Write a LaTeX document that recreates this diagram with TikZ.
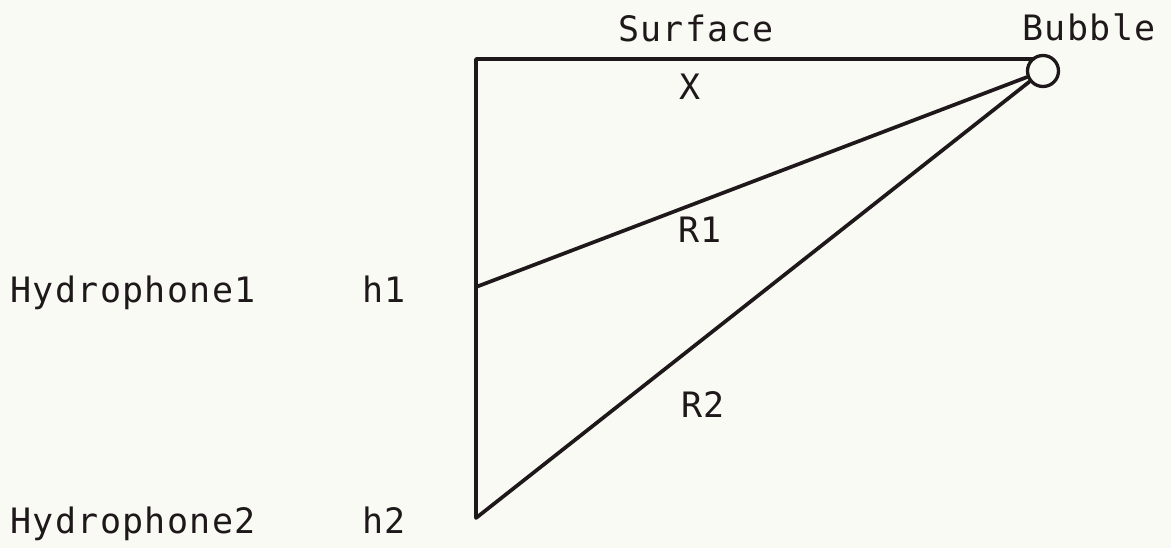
\documentclass[tikz,border=0pt]{standalone}
\usepackage{fontspec}
\setmonofont[LetterSpace=4]{DejaVu Sans Mono}
\definecolor{bg}{RGB}{250,250,245}
\definecolor{ink}{RGB}{30,24,26}
\begin{document}
\begin{tikzpicture}[x=1pt,y=-1pt,
  lbl/.style={inner sep=0pt,text=ink,font=\fontsize{35}{40}\selectfont\ttfamily},
  ray/.style={draw=ink,line width=3.7pt,line cap=round,line join=round}]
\fill[bg] (0,0) rectangle (1171,548);
\useasboundingbox (0,0) rectangle (1171,548);
% geometry
\coordinate (top) at (476,59);
\coordinate (h1) at (476,287);
\coordinate (h2) at (476,518);
\node[draw=ink,line width=3.3pt,circle,minimum size=31pt,inner sep=0pt] (bubble) at (1043,71) {};
% lines
\draw[ray] (top -| bubble.123) -- (top) -- (h2) -- (bubble);
\draw[ray] (h1) -- (bubble);
% labels
\node[lbl,anchor=base] (surf) at (696,42) {Surface};
\node[lbl,anchor=base] (bubl) at (1089,41) {Bubble};
\node[lbl,anchor=base] (xl) at (690,100) {X};
\node[lbl,anchor=base] (r1) at (700,243) {R1};
\node[lbl,anchor=base] (r2) at (703,417) {R2};
\node[lbl,anchor=base west] (hy1) at (10,303) {Hydrophone1};
\node[lbl,anchor=base west] (lh1) at (362,303) {h1};
\node[lbl,anchor=base west] (hy2) at (10,533) {Hydrophone2};
\node[lbl,anchor=base west] (lh2) at (362,533) {h2};
\end{tikzpicture}
\end{document}
